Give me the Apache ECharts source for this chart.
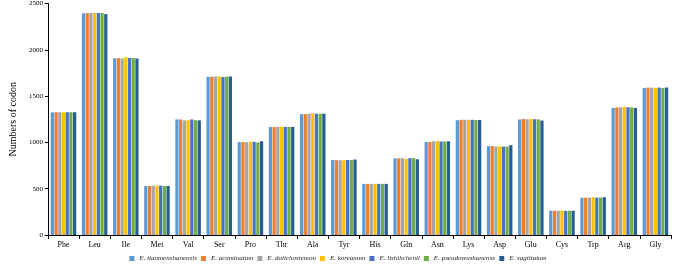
<!DOCTYPE html>
<html>
<head>
<meta charset="utf-8">
<script src="https://cdn.jsdelivr.net/npm/echarts@6/dist/echarts.min.js"></script>
<style>
  html, body { margin: 0; padding: 0; background: #fff; }
  #chart { width: 676px; height: 268px; }
</style>
</head>
<body>
<div id="chart"></div>
<script>
  const aminoAcids = ['Phe', 'Leu', 'Ile', 'Met', 'Val', 'Ser', 'Pro', 'Thr', 'Ala', 'Tyr',
    'His', 'Gln', 'Asn', 'Lys', 'Asp', 'Glu', 'Cys', 'Trp', 'Arg', 'Gly'];
  const speciesNames = ['E. tianmenshanensis', 'E. acuminatum', 'E. dolichostemon', 'E. koreanum',
    'E. lishihchenii', 'E. pseudowushanense', 'E. sagittatum'];

  const tianmenshanensis = [1325, 2395, 1908, 530, 1248, 1708, 1003, 1166, 1305, 810, 552, 828, 1005, 1240, 960, 1248, 262, 402, 1372, 1588];
  const acuminatum = [1326, 2396, 1910, 530, 1248, 1710, 1003, 1166, 1306, 808, 552, 828, 1005, 1244, 960, 1252, 262, 402, 1378, 1592];
  const dolichostemon = [1325, 2396, 1908, 532, 1238, 1712, 1003, 1168, 1310, 808, 552, 828, 1012, 1244, 955, 1250, 262, 404, 1378, 1590];
  const koreanum = [1325, 2397, 1920, 534, 1240, 1714, 1008, 1170, 1315, 808, 552, 822, 1015, 1244, 955, 1252, 262, 408, 1385, 1590];
  const lishihchenii = [1326, 2397, 1912, 533, 1248, 1706, 1005, 1168, 1310, 810, 552, 830, 1010, 1244, 955, 1250, 260, 404, 1380, 1592];
  const pseudowushanense = [1326, 2398, 1912, 530, 1240, 1710, 1000, 1168, 1310, 810, 552, 830, 1010, 1242, 955, 1248, 262, 404, 1378, 1588];
  const sagittatum = [1326, 2385, 1906, 530, 1238, 1712, 1012, 1168, 1310, 815, 552, 818, 1012, 1242, 970, 1236, 262, 408, 1372, 1592];

  const seriesValues = [tianmenshanensis, acuminatum, dolichostemon, koreanum, lishihchenii, pseudowushanense, sagittatum];
  const colors = ['#5B9BD5', '#ED7D31', '#A5A5A5', '#FFC000', '#4472C4', '#70AD47', '#255E91'];

  const chart = echarts.init(document.getElementById('chart'));
  const font = '"Liberation Serif", "Times New Roman", serif';

  chart.setOption({
    animation: false,
    color: colors,
    textStyle: { fontFamily: font },
    grid: { left: 33, right: 5, top: 3, bottom: 33 },
    legend: {
      bottom: 1,
      left: 'center',
      itemWidth: 5,
      itemHeight: 5,
      itemGap: 4,
      icon: 'rect',
      textStyle: { fontFamily: font, fontStyle: 'italic', fontSize: 7, color: '#222' },
      data: speciesNames
    },
    xAxis: {
      type: 'category',
      data: aminoAcids,
      axisLine: { lineStyle: { color: '#000', width: 1 } },
      axisTick: { show: true, length: 4, lineStyle: { color: '#000' } },
      axisLabel: { color: '#000', fontSize: 8, fontFamily: font, margin: 6 }
    },
    yAxis: {
      type: 'value',
      min: 0,
      max: 2500,
      interval: 500,
      name: 'Numbers of codon',
      nameLocation: 'middle',
      nameGap: 24,
      nameTextStyle: { color: '#000', fontSize: 10, fontFamily: font },
      axisLine: { show: true, lineStyle: { color: '#000', width: 1 } },
      axisTick: { show: true, length: 3, lineStyle: { color: '#000' } },
      axisLabel: {
        color: '#000', fontSize: 7, fontFamily: font, margin: 5,
        formatter: (v) => String(v)
      },
      splitLine: { show: false }
    },
    series: seriesValues.map((vals, i) => ({
      name: speciesNames[i],
      type: 'bar',
      data: vals,
      barGap: '15%',
      barCategoryGap: '18%'
    }))
  });
</script>
</body>
</html>
